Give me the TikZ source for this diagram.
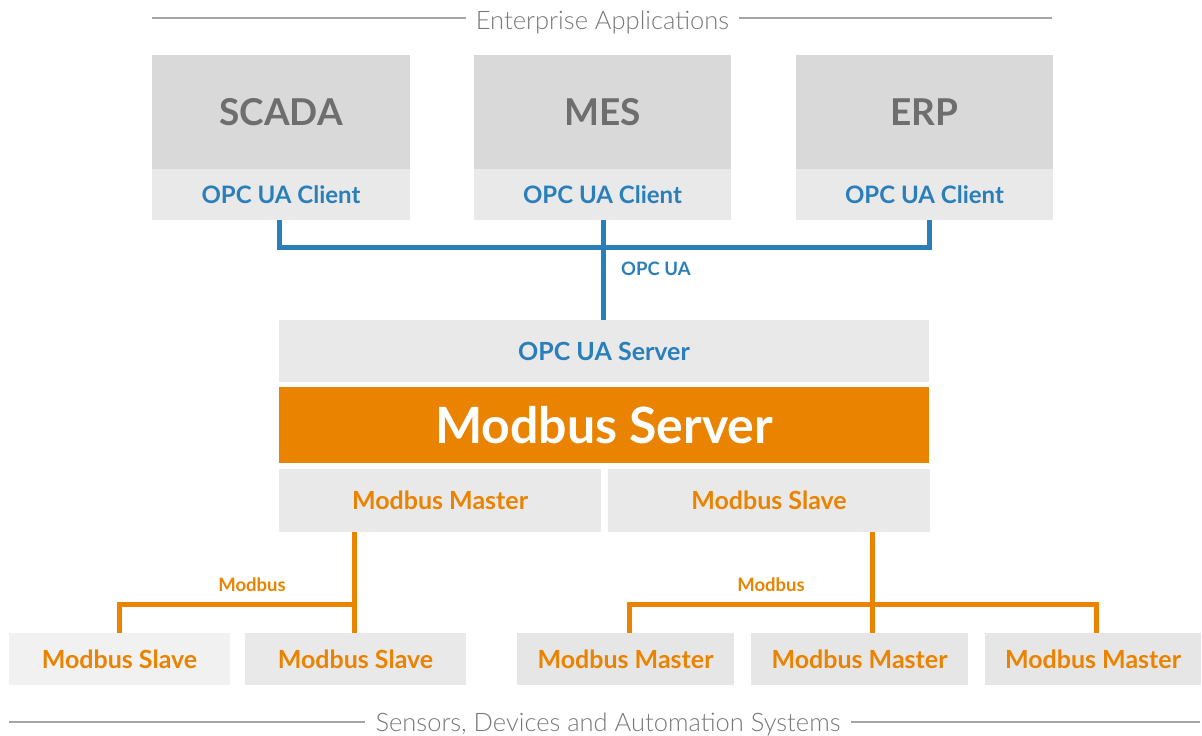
\documentclass[tikz,border=0pt]{standalone}
\usepackage{fontspec}
\setmainfont{Lato}[BoldFont={* Bold}]
\newfontfamily\lightfont{Lato Light}
\definecolor{opcblue}{RGB}{42,127,186}
\definecolor{mborange}{RGB}{233,131,0}
\definecolor{appgray}{RGB}{217,217,217}
\definecolor{boxgray}{RGB}{233,233,233}
\definecolor{paleboxgray}{RGB}{241,241,241}
\definecolor{devgray}{RGB}{230,230,230}
\definecolor{apptext}{RGB}{110,110,110}
\definecolor{rulegray}{RGB}{165,165,165}
\definecolor{captext}{RGB}{120,120,120}
\tikzset{
  block/.style={anchor=north west, inner sep=0pt, outer sep=0pt, font=\bfseries},
  app/.style={block, fill=appgray, text=apptext, font=\bfseries\fontsize{37}{37}\selectfont, text depth=-7pt},
  client/.style={block, fill=boxgray, text=opcblue, font=\bfseries\fontsize{24}{24}\selectfont, text depth=-5pt},
  role/.style={block, fill=boxgray, text=mborange, font=\bfseries\fontsize{25}{25}\selectfont, text depth=-3pt},
  device/.style={block, fill=devgray, text=mborange, font=\bfseries\fontsize{25}{25}\selectfont, text depth=-3pt},
  opcline/.style={draw=opcblue, line width=5pt, line join=miter},
  mbline/.style={draw=mborange, line width=5pt, line join=miter},
  rule/.style={draw=rulegray, line width=1.6pt},
  caption/.style={text=captext, font=\lightfont\fontsize{25.5}{25.5}\selectfont, inner xsep=10pt},
  buslabel/.style={font=\bfseries\fontsize{18.5}{18.5}\selectfont, inner sep=0pt}
}
\begin{document}
\begin{tikzpicture}[x=1pt,y=-1pt]
\useasboundingbox (0,0) rectangle (1202,736);

% enterprise layer heading
\node[caption] (toplabel) at (602.5,22) {Enterprise Applications};
\draw[rule] (152,18) -- (toplabel.west |- 0,18);
\draw[rule] (toplabel.east |- 0,18) -- (1052,18);

% application boxes with their OPC UA clients
\node[app, minimum width=258pt, minimum height=114pt] (scada) at (152,55) {SCADA};
\node[client, minimum width=258pt, minimum height=51pt] (c1) at (152,169) {OPC UA Client};
\node[app, minimum width=257pt, minimum height=114pt] (mes) at (474,55) {MES};
\node[client, minimum width=257pt, minimum height=51pt] (c2) at (474,169) {OPC UA Client};
\node[app, minimum width=257pt, minimum height=114pt] (erp) at (796,55) {ERP};
\node[client, minimum width=257pt, minimum height=51pt] (c3) at (796,169) {OPC UA Client};

% gateway stack
\node[client, minimum width=650pt, minimum height=62pt, font=\bfseries\fontsize{25}{25}\selectfont, text depth=-3pt] (srv) at (279,320) {OPC UA Server};
\node[block, fill=mborange, text=white, minimum width=650pt, minimum height=76pt, font=\bfseries\fontsize{50}{50}\selectfont, text depth=-4pt] (mbsrv) at (279,387) {Modbus Server};
\node[role, minimum width=322pt, minimum height=63pt] (master) at (279,469) {Modbus Master};
\node[role, minimum width=322pt, minimum height=63pt] (slave) at (608,469) {Modbus Slave};

% OPC UA bus
\coordinate (bus) at (603,247);
\draw[opcline] (c1.south -| 279,0) |- (bus) -| (c3.south -| 929,0);
\draw[opcline] (c2.south -| bus) -- (srv.north -| bus);
\node[buslabel, text=opcblue, anchor=west] (opclbl) at (621,269) {OPC UA};

% field devices
\node[device, fill=paleboxgray, minimum width=221pt, minimum height=52pt] (s1) at (9,633) {Modbus Slave};
\node[device, fill=boxgray, minimum width=221pt, minimum height=52pt] (s2) at (245,633) {Modbus Slave};
\node[device, minimum width=217pt, minimum height=52pt] (m1) at (517,633) {Modbus Master};
\node[device, minimum width=217pt, minimum height=52pt] (m2) at (751,633) {Modbus Master};
\node[device, minimum width=216pt, minimum height=52pt] (m3) at (985,633) {Modbus Master};

% Modbus links
\coordinate (jl) at (354,604);
\draw[mbline] (master.south -| jl) -- (s2.north -| jl);
\draw[mbline] (jl) -| (s1.north);
\node[buslabel, text=mborange] (mblblL) at (252,585) {Modbus};

\coordinate (jr) at (872,604);
\draw[mbline] (slave.south -| jr) -- (m2.north -| jr);
\draw[mbline] (m1.north -| 629,0) |- (jr) -| (m3.north -| 1096,0);
\node[buslabel, text=mborange] (mblblR) at (771,585) {Modbus};

% field layer heading
\node[caption] (botlabel) at (608,724) {Sensors, Devices and Automation Systems};
\draw[rule] (9,722) -- (botlabel.west |- 0,722);
\draw[rule] (botlabel.east |- 0,722) -- (1200,722);
\end{tikzpicture}
\end{document}
